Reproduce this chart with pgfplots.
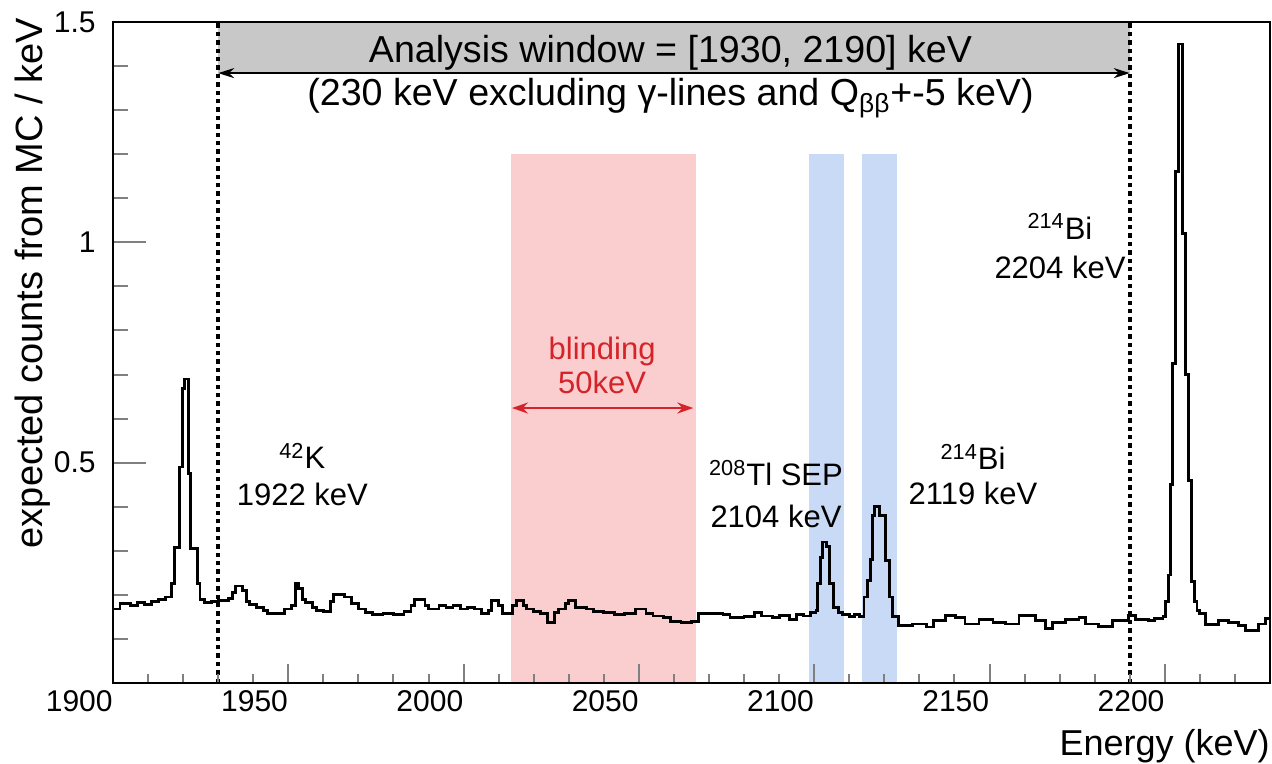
\documentclass[border=0pt]{standalone}
\usepackage{fontspec}
\setmainfont{Liberation Sans}
\usepackage{pgfplots}
\pgfplotsset{compat=1.18}
\usetikzlibrary{arrows.meta}

\definecolor{blindpink}{RGB}{250,205,206}
\definecolor{lineblue}{RGB}{200,218,245}
\definecolor{wingrey}{RGB}{200,200,200}
\definecolor{blindred}{RGB}{212,36,42}
\newcommand\annot{\fontsize{15.5}{18.6}\selectfont}

\begin{document}
\begin{tikzpicture}
\useasboundingbox (-56.5pt,-40.5pt) rectangle (579.5pt,341.5pt);
\begin{axis}[
    at={(0,0)}, anchor=south west,
    scale only axis, width=578.5pt, height=330.5pt,
    xmin=1900, xmax=2230, ymin=0, ymax=1.5,
    axis on top,
    axis line style={line width=1pt},
    tick align=inside, tick pos=left,
    xtick={1900,1950,...,2200},
    minor xtick={1910,1920,...,2220},
    ytick={0.5,1,1.5},
    minor ytick={0.1,0.2,0.3,0.4,0.6,0.7,0.8,0.9,1.1,1.2,1.3,1.4},
    xtick style={line width=1pt, /pgfplots/major tick length=9.5pt, /pgfplots/minor tick length=4.5pt},
    ytick style={line width=1pt, /pgfplots/major tick length=16.5pt, /pgfplots/minor tick length=7.5pt},
    ticklabel style={font=\fontsize{15}{18}\selectfont},
    xticklabel style={anchor=north east, inner sep=0pt, yshift=-3.5pt},
    yticklabel style={anchor=east, inner sep=0pt, xshift=-8.5pt},
    /pgf/number format/assume math mode=true,
    /pgf/number format/1000 sep={},
    xlabel={Energy (keV)},
    xlabel style={at={(axis description cs:1,-0.109)}, anchor=base east, inner sep=0pt, font=\fontsize{18}{21}\selectfont},
    ylabel={expected counts from MC / keV},
    ylabel style={at={(axis description cs:-0.0605,0.605)}, anchor=base, inner sep=0pt, font=\fontsize{19}{22}\selectfont},
]
% shaded regions
\addplot[draw=none, fill=blindpink] coordinates {(2013.5,0) (2066.3,0) (2066.3,1.2) (2013.5,1.2)} -- cycle;
\addplot[draw=none, fill=lineblue] coordinates {(2098.5,0) (2108.5,0) (2108.5,1.2) (2098.5,1.2)} -- cycle;
\addplot[draw=none, fill=lineblue] coordinates {(2113.5,0) (2123.5,0) (2123.5,1.2) (2113.5,1.2)} -- cycle;
\addplot[draw=none, fill=wingrey] coordinates {(1930,1.384) (2190,1.384) (2190,1.5) (1930,1.5)} -- cycle;

% analysis window edges
\addplot[black, line width=2pt, dash pattern=on 2.2pt off 2pt] coordinates {(1930,0) (1930,1.5)};
\addplot[black, line width=2pt, dash pattern=on 2.2pt off 2pt] coordinates {(2190,0) (2190,1.5)};
\addplot[black, line width=1.2pt, {Stealth[length=8pt,width=5pt]}-{Stealth[length=8pt,width=5pt]}] coordinates {(1930,1.384) (2190,1.384)};
\addplot[blindred, line width=1.3pt, {Stealth[length=8pt,width=5.5pt]}-{Stealth[length=8pt,width=5.5pt]}] coordinates {(2013.8,0.624) (2065.5,0.624)};

% MC spectrum
\addplot[black, line width=1.4pt, const plot mark left] coordinates {
(1900,0.168) (1902,0.180) (1905,0.176) (1907,0.182) (1909,0.178) (1911,0.185) (1913,0.190) (1915,0.195)
(1916.6,0.225) (1917.6,0.308) (1919.0,0.490) (1919.9,0.668) (1920.4,0.690) (1921.6,0.475) (1922.2,0.305)
(1924.0,0.225) (1924.8,0.190) (1926,0.182) (1928,0.185) (1930,0.187) (1933,0.192) (1934,0.205) (1935,0.220)
(1937,0.210) (1938,0.185) (1939,0.178) (1941,0.172) (1943,0.165) (1944,0.157) (1947,0.158) (1949,0.168)
(1951,0.175) (1952,0.226) (1953,0.215) (1954,0.190) (1955,0.182) (1957,0.172) (1958,0.165) (1960,0.163)
(1962,0.185) (1963,0.200) (1966,0.195) (1968,0.180) (1970,0.168) (1972,0.160) (1974,0.155) (1977,0.158)
(1980,0.155) (1983,0.163) (1985,0.175) (1986,0.190) (1989,0.175) (1990,0.168) (1993,0.175) (1995,0.172)
(1997,0.175) (1999,0.168) (2001,0.172) (2003,0.168) (2005,0.157) (2007,0.165) (2008,0.187) (2010,0.175)
(2011,0.157) (2014,0.175) (2015,0.187) (2017,0.175) (2018,0.168) (2020,0.162) (2022,0.157) (2024,0.138)
(2026,0.160) (2027,0.168) (2029,0.180) (2030,0.188) (2032,0.172) (2035,0.168) (2037,0.162) (2040,0.160)
(2043,0.156) (2046,0.158) (2049,0.168) (2052,0.157) (2054,0.152) (2057,0.148) (2059,0.140) (2062,0.138)
(2065,0.140) (2067,0.157) (2071,0.158) (2074,0.155) (2076,0.149) (2080,0.150) (2083,0.160) (2085,0.152)
(2088,0.148) (2090,0.153) (2093,0.145) (2095,0.155) (2097,0.152) (2099,0.160) (2100.5,0.165) (2101.0,0.225)
(2101.9,0.285) (2102.4,0.320) (2103.5,0.310) (2104.4,0.225) (2105.6,0.172) (2107.0,0.160) (2108.1,0.155)
(2110,0.150) (2111.5,0.155) (2113,0.150) (2114.2,0.195) (2115.2,0.232) (2116.0,0.280) (2116.6,0.380)
(2117.1,0.400) (2118.6,0.380) (2120.4,0.278) (2121.4,0.195) (2122.3,0.150) (2124,0.131) (2128,0.134)
(2132,0.127) (2134,0.142) (2137.5,0.153) (2140.3,0.149) (2143,0.134) (2147,0.145) (2151,0.138) (2154.6,0.134)
(2158.4,0.153) (2163,0.142) (2166,0.123) (2168,0.138) (2171.7,0.145) (2175.5,0.149) (2177.4,0.134) (2181,0.128)
(2185,0.142) (2189.7,0.153) (2191.6,0.145) (2195.4,0.142) (2197,0.147) (2199.5,0.150) (2200.2,0.185)
(2201.0,0.245) (2201.6,0.450) (2202.2,0.725) (2203.0,1.160) (2203.9,1.450) (2205.0,1.020) (2206.0,0.700)
(2206.8,0.460) (2207.7,0.230) (2208.4,0.185) (2209.2,0.165) (2210,0.157) (2211.6,0.132) (2215.4,0.142)
(2218.2,0.137) (2221,0.130) (2223,0.120) (2226.8,0.134) (2228.7,0.147) (2230,0.147)
};

% labels
\node[anchor=base, font=\fontsize{18.8}{22}\selectfont] at (axis cs:2059,1.409) {Analysis window = [1930, 2190] keV};
\node[anchor=base, font=\fontsize{18.8}{22}\selectfont] at (axis cs:2059,1.310) {(230 keV excluding γ-lines and Q\textsubscript{ββ}+-5 keV)};
\node[anchor=base, font=\annot, text=blindred] at (axis cs:2039.5,0.735) {blinding};
\node[anchor=base, font=\annot, text=blindred] at (axis cs:2039.5,0.656) {50keV};
\node[anchor=base, font=\annot] at (axis cs:1954,0.486) {\textsuperscript{42}K};
\node[anchor=base, font=\annot] at (axis cs:1954,0.403) {1922 keV};
\node[anchor=base, font=\annot] at (axis cs:2089.1,0.448) {\textsuperscript{208}Tl SEP};
\node[anchor=base, font=\annot] at (axis cs:2089.1,0.353) {2104 keV};
\node[anchor=base, font=\annot] at (axis cs:2145.3,0.484) {\textsuperscript{214}Bi};
\node[anchor=base, font=\annot] at (axis cs:2145.3,0.405) {2119 keV};
\node[anchor=base, font=\annot] at (axis cs:2170.1,1.007) {\textsuperscript{214}Bi};
\node[anchor=base, font=\annot] at (axis cs:2170.1,0.917) {2204 keV};
\end{axis}
\end{tikzpicture}
\end{document}
